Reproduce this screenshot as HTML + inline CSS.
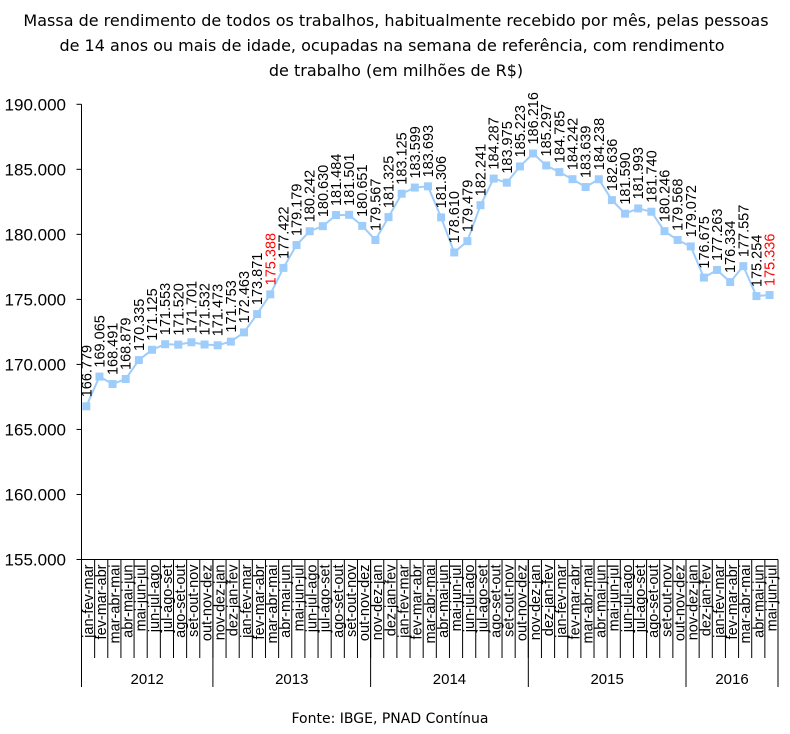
<!DOCTYPE html>
<html><head><meta charset="utf-8"><style>
body{margin:0;background:#fff;}
svg{display:block;font-family:"Liberation Sans",Arial,sans-serif;}
</style></head><body>
<svg id="chart" width="790" height="734" viewBox="0 0 790 734">
<g font-family="'DejaVu Sans','Liberation Sans',sans-serif" font-size="16" text-anchor="middle" fill="#000">
<text x="396" y="26">Massa de rendimento de todos os trabalhos, habitualmente recebido por mês, pelas pessoas</text>
<text x="392" y="51">de 14 anos ou mais de idade, ocupadas na semana de referência, com rendimento</text>
<text x="396" y="76">de trabalho (em milhões de R$)</text>
</g>
<g id="axes"></g>
<g id="series"></g>
<text x="390" y="723" text-anchor="middle" font-family="'DejaVu Sans','Liberation Sans',sans-serif" font-size="14">Fonte: IBGE, PNAD Contínua</text>
</svg>
<script>
const categories = ["jan-fev-mar","fev-mar-abr","mar-abr-mai","abr-mai-jun","mai-jun-jul","jun-jul-ago","jul-ago-set","ago-set-out","set-out-nov","out-nov-dez",
"nov-dez-jan","dez-jan-fev","jan-fev-mar","fev-mar-abr","mar-abr-mai","abr-mai-jun","mai-jun-jul","jun-jul-ago","jul-ago-set","ago-set-out","set-out-nov","out-nov-dez",
"nov-dez-jan","dez-jan-fev","jan-fev-mar","fev-mar-abr","mar-abr-mai","abr-mai-jun","mai-jun-jul","jun-jul-ago","jul-ago-set","ago-set-out","set-out-nov","out-nov-dez",
"nov-dez-jan","dez-jan-fev","jan-fev-mar","fev-mar-abr","mar-abr-mai","abr-mai-jun","mai-jun-jul","jun-jul-ago","jul-ago-set","ago-set-out","set-out-nov","out-nov-dez",
"nov-dez-jan","dez-jan-fev","jan-fev-mar","fev-mar-abr","mar-abr-mai","abr-mai-jun","mai-jun-jul"];
const values = [166.779,169.065,168.491,168.879,170.335,171.125,171.553,171.520,171.701,171.532,
171.473,171.753,172.463,173.871,175.388,177.422,179.179,180.242,180.630,181.484,181.501,180.651,
179.567,181.325,183.125,183.599,183.693,181.306,178.610,179.479,182.241,184.287,183.975,185.223,
186.216,185.297,184.785,184.242,183.639,184.238,182.636,181.590,181.993,181.740,180.246,179.568,
179.072,176.675,177.263,176.334,177.557,175.254,175.336];
const highlighted = [14, 52];
const years = ["2012","2013","2014","2015","2016"];
const yearCounts = [10,12,12,12,7];
const yTicks = [155,160,165,170,175,180,185,190];

(function(){
const NS="http://www.w3.org/2000/svg";
const axes=document.getElementById('axes'), series=document.getElementById('series');
const plotLeft=81.5, plotRight=778, plotTop=104.3, plotBottom=559.5, yMin=155, yMax=190;
const step=(plotRight-plotLeft)/categories.length;
const xPos=i=>86.3+i*(769.6-86.3)/(categories.length-1);
const yPos=v=>plotBottom-(v-yMin)/(yMax-yMin)*(plotBottom-plotTop);
const fmt=v=>v.toFixed(3);
function mk(tag,attrs,parent){const e=document.createElementNS(NS,tag);for(const k in attrs)e.setAttribute(k,attrs[k]);parent.appendChild(e);return e;}

let ya=mk('line',{x1:plotLeft,y1:plotTop,x2:plotLeft,y2:plotBottom,stroke:'#000'},axes);


yTicks.forEach(t=>{
  const y=yPos(t);
  let l=mk('line',{x1:plotLeft-5,y1:y,x2:plotLeft,y2:y,stroke:'#000'},axes);
  
  
  let tx=mk('text',{x:66,y:y+6,'text-anchor':'end','font-size':'17'},axes);
  tx.textContent=t.toFixed(3);
  
  
});
let xa=mk('line',{x1:plotLeft,y1:plotBottom,x2:plotRight,y2:plotBottom,stroke:'#000'},axes);


for(let k=0;k<=categories.length;k++){
  const x=plotLeft+k*step;
  let l=mk('line',{x1:x,y1:plotBottom,x2:x,y2:658,stroke:'#000'},axes);
  
  
}
categories.forEach((c,i)=>{
  const cx=plotLeft+(i+0.5)*step;
  let t=mk('text',{x:0,y:0,'text-anchor':'end','font-size':'14.5',transform:`translate(${cx+5},${plotBottom+5}) rotate(-90)`},axes);
  t.textContent=c;
  
  
});
let acc=0;
years.forEach((yr,j)=>{
  const x0=plotLeft+acc*step;
  acc+=yearCounts[j];
  const x1=plotLeft+acc*step;
  let l=mk('line',{x1:x0,y1:plotBottom,x2:x0,y2:687,stroke:'#000'},axes);
  
  
  if(j===years.length-1){
    let l2=mk('line',{x1:x1,y1:plotBottom,x2:x1,y2:687,stroke:'#000'},axes);
    
    
  }
  let t=mk('text',{x:(x0+x1)/2,y:684,'text-anchor':'middle','font-size':'15'},axes);
  t.textContent=yr;
  
  
});

const pts=values.map((v,i)=>xPos(i)+','+yPos(v)).join(' ');
let pl=mk('polyline',{points:pts,fill:'none',stroke:'#9fcdfb','stroke-width':'2'},series);


values.forEach((v,i)=>{
  const x=xPos(i),y=yPos(v);
  let r=mk('rect',{x:x-4,y:y-4,width:8,height:8,fill:'#9fcdfb'},series);
  
  
  let t=mk('text',{x:0,y:0,'font-size':'14.5',fill:highlighted.includes(i)?'#ff0000':'#000',transform:`translate(${x+5},${y-9}) rotate(-90)`},series);
  t.textContent=fmt(v);
  
  
});
})();
</script>
</body></html>
